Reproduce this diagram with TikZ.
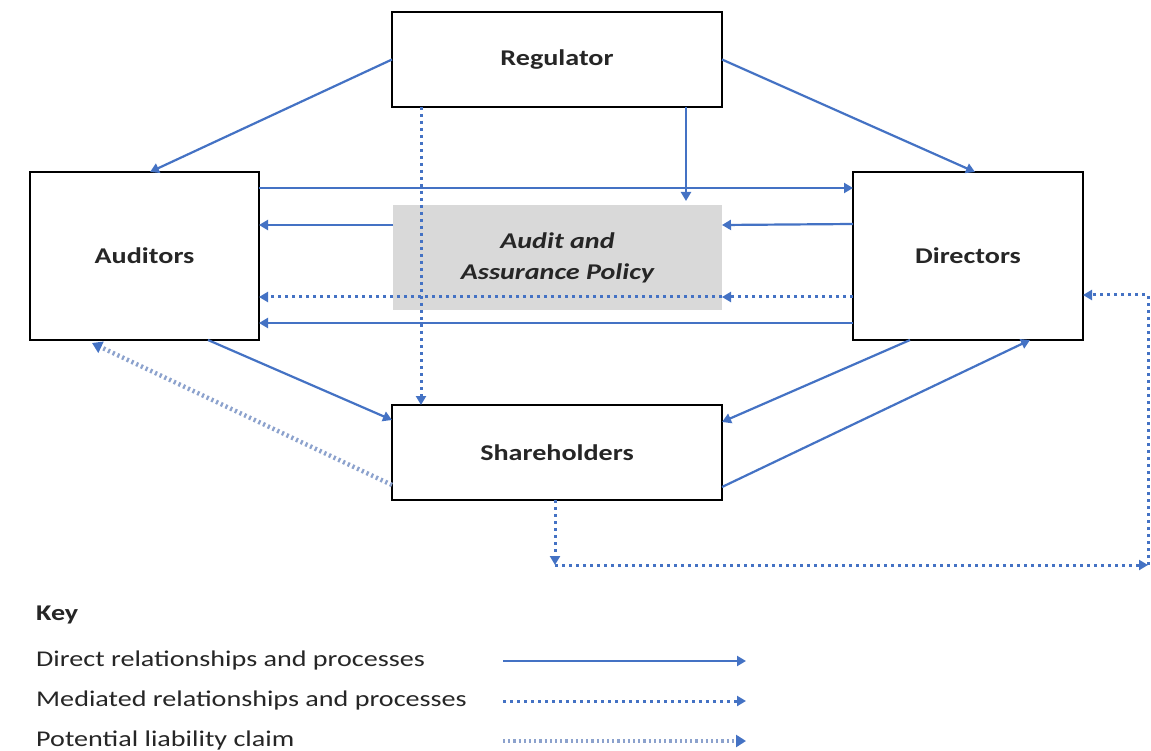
\documentclass[tikz,border=0pt]{standalone}
\usepackage{fontspec}
\setmainfont{Carlito}[FakeStretch=1.25]
\usetikzlibrary{arrows.meta,calc}
\definecolor{ablue}{HTML}{4472C4}
\definecolor{lblue}{RGB}{140,162,205}
\definecolor{pgrey}{HTML}{D9D9D9}
\definecolor{txt}{HTML}{262626}
\begin{document}
\begin{tikzpicture}[x=1pt,y=-1pt,
  box/.style={draw=black,line width=2.6pt,outer sep=0pt,fill=white,inner sep=0pt,font=\fontsize{22.5}{26}\selectfont\bfseries,text=txt},
  direct/.style={draw=ablue,line width=2.2pt,-{Triangle[length=9pt,width=10pt]}},
  med/.style={draw=ablue,line width=3pt,dash pattern=on 3pt off 4pt,-{Triangle[length=9pt,width=10pt]}},
  liab/.style={draw=lblue,line width=4.5pt,dash pattern=on 2.2pt off 3pt,arrows={-{Triangle[length=10pt,width=12pt,color=ablue]}}},
  keytxt/.style={anchor=west,inner sep=0pt,font=\fontsize{22.5}{26}\selectfont,text=txt}]
\fill[white] (0,0) rectangle (1151,751);
\useasboundingbox (0,0) rectangle (1151,751);
% nodes
\node[box,minimum width=330pt,minimum height=95pt] (reg) at (557,59.5) {Regulator};
\node[box,minimum width=229pt,minimum height=168pt] (aud) at (144.5,256) {Auditors};
\node[box,minimum width=230pt,minimum height=168pt] (dir) at (968,256) {Directors};
\node[box,minimum width=330pt,minimum height=95pt] (sh) at (557,452.5) {Shareholders};
\node[fill=pgrey,outer sep=0pt,minimum width=329pt,minimum height=105pt,inner sep=0pt,align=center,
      font=\fontsize{22.5}{31}\selectfont\bfseries\itshape,text=txt] (pol) at (557.5,257.5) {Audit and\\Assurance Policy};
% connectors
\draw[direct] (reg.west) -- ([xshift=120pt]aud.north west);
\draw[direct] (reg.east) -- ([xshift=122pt]dir.north west);
\draw[direct] ([xshift=-36pt]reg.south east) -- ([xshift=-36pt,yshift=4pt]pol.north east);
\draw[direct] ([yshift=-16pt]aud.north east) -- ([yshift=-16pt]dir.north west);
\draw[direct] ([yshift=-20pt]pol.north west) -- ([yshift=-53pt]aud.north east);
\draw[direct] ([yshift=-52pt]dir.north west) -- ([yshift=-20pt]pol.north east);
\draw[med] ([yshift=-125pt]dir.north west) -- ([yshift=-92pt]pol.north east);
\draw[med] ([yshift=-92pt]pol.north east) -- ([yshift=-125pt]aud.north east);
\draw[direct] ([yshift=-151pt]dir.north west) -- ([yshift=-151pt]aud.north east);
\draw[med] ([xshift=29pt]reg.south west) -- ([xshift=29pt]sh.north west);
\draw[direct] ([xshift=178pt]aud.south west) -- ([yshift=-15pt]sh.north west);
\draw[direct] ([xshift=57pt]dir.south west) -- ([yshift=-17pt]sh.north east);
\draw[direct] ([yshift=13pt]sh.south east) -- ([xshift=-53pt]dir.south east);
\draw[liab] ([yshift=15pt]sh.south west) -- ([xshift=62pt,yshift=-3pt]aud.south west);
\coordinate (c1) at (557,565);
\coordinate (c2) at (1148,565);
\draw[med] ([xshift=-2pt]sh.south) -- ([xshift=-2pt]c1);
\draw[med] ([xshift=-2pt]c1) -- (c2);
\draw[med] (c2) |- ([yshift=-123pt]dir.north east);
% key
\node[anchor=west,inner sep=0pt,font=\fontsize{22.5}{26}\selectfont\bfseries,text=txt] (key) at (36,615) {Key};
\node[keytxt] (k1) at (36,660) {Direct relationships and processes};
\node[keytxt] (k2) at (36,700) {Mediated relationships and processes};
\node[keytxt] (k3) at (36,740) {Potential liability claim};
\coordinate (k1a) at (503,661); \coordinate (k1b) at (746,661);
\coordinate (k2a) at (503,701); \coordinate (k2b) at (746,701);
\coordinate (k3a) at (503,741); \coordinate (k3b) at (746,741);
\draw[direct] (k1a) -- (k1b);
\draw[med] (k2a) -- (k2b);
\draw[liab] (k3a) -- (k3b);
\end{tikzpicture}
\end{document}
